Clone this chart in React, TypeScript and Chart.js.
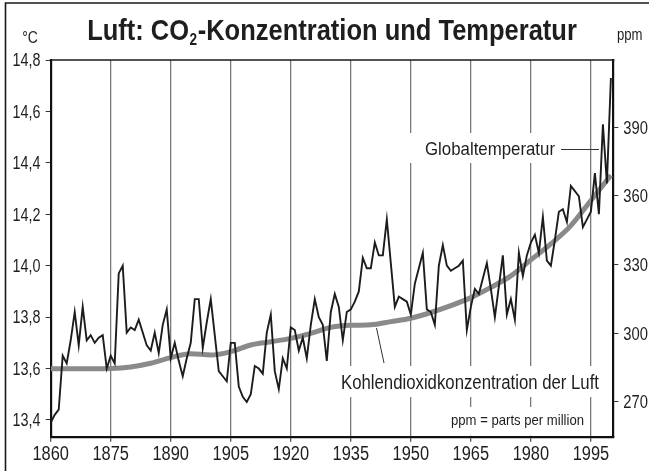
import React, { useEffect, useRef } from "react";
import { Chart, registerables } from "chart.js";
Chart.register(...registerables);

const FONT = "'Liberation Sans', Arial, sans-serif";

const firstYear = 1860;
const temp1860s = [13.39, 13.42, 13.44, 13.65, 13.62, 13.71, 13.82, 13.69, 13.84, 13.71];
const temp1870s = [13.73, 13.70, 13.72, 13.73, 13.60, 13.65, 13.62, 13.97, 14.00, 13.74];
const temp1880s = [13.76, 13.75, 13.79, 13.74, 13.69, 13.67, 13.74, 13.66, 13.77, 13.83];
const temp1890s = [13.64, 13.70, 13.63, 13.57, 13.64, 13.70, 13.87, 13.87, 13.68, 13.78];
const temp1900s = [13.87, 13.73, 13.59, 13.57, 13.55, 13.70, 13.70, 13.53, 13.49, 13.47];
const temp1910s = [13.50, 13.61, 13.60, 13.58, 13.74, 13.81, 13.59, 13.52, 13.64, 13.60];
const temp1920s = [13.76, 13.75, 13.67, 13.72, 13.64, 13.77, 13.87, 13.80, 13.77, 13.63];
const temp1930s = [13.82, 13.89, 13.84, 13.71, 13.82, 13.83, 13.86, 13.90, 14.03, 13.99];
const temp1940s = [13.99, 14.09, 14.04, 14.04, 14.18, 14.01, 13.84, 13.88, 13.87, 13.86];
const temp1950s = [13.81, 13.93, 13.99, 14.05, 13.83, 13.82, 13.77, 14.00, 14.08, 14.00];
const temp1960s = [13.98, 13.99, 14.00, 14.02, 13.75, 13.84, 13.91, 13.89, 13.95, 14.01];
const temp1970s = [13.91, 13.80, 13.92, 14.04, 13.81, 13.87, 13.79, 14.05, 13.96, 14.04];
const temp1980s = [14.09, 14.12, 14.05, 14.19, 14.02, 14.00, 14.10, 14.21, 14.22, 14.17];
const temp1990s = [14.31, 14.29, 14.27, 14.15, 14.18, 14.21, 14.36, 14.20, 14.55, 14.32];
const temp2000s = [14.73];

const co2Years = [1860, 1865, 1870, 1875, 1880, 1885, 1890, 1895, 1900, 1905, 1910, 1915, 1920, 1925, 1930, 1935, 1940, 1945, 1950, 1955, 1960, 1965, 1970, 1975, 1980, 1985, 1990, 1995, 2000];
const co2Values = [284.4, 284.4, 284.4, 284.5, 285.2, 286.8, 289.3, 291.0, 290.4, 291.9, 294.8, 296.2, 297.7, 299.9, 302.5, 303.4, 303.6, 305.0, 306.5, 309.0, 312.0, 315.5, 320.0, 325.0, 332.0, 339.0, 347.0, 358.0, 369.0];

const xTicks = [1860, 1875, 1890, 1905, 1920, 1935, 1950, 1965, 1980, 1995];
const tempTicks = [13.4, 13.6, 13.8, 14.0, 14.2, 14.4, 14.6, 14.8];
const ppmTicks = [270, 300, 330, 360, 390];

const titleMain = "Luft: CO";
const titleSub = "2";
const titleRest = "-Konzentration und Temperatur";
const leftUnit = "°C";
const rightUnit = "ppm";
const labelTemp = "Globaltemperatur";
const labelCo2 = "Kohlendioxidkonzentration der Luft";
const labelPpm = "ppm = parts per million";

const tempValues = [
  ...temp1860s, ...temp1870s, ...temp1880s, ...temp1890s, ...temp1900s,
  ...temp1910s, ...temp1920s, ...temp1930s, ...temp1940s, ...temp1950s,
  ...temp1960s, ...temp1970s, ...temp1980s, ...temp1990s, ...temp2000s,
];

const SX = 0.82;
const TITLE_SX = 0.85;
const TEXT = "#1e1e1e";

function fontStr(size: number, bold = false) {
  return `${bold ? "bold " : ""}${size}px ${FONT}`;
}

// draw horizontally condensed text; returns drawn width
function drawText(
  ctx: CanvasRenderingContext2D,
  text: string,
  x: number,
  y: number,
  size: number,
  align: "left" | "center" | "right" = "left",
  bold = false,
  sx = SX,
  fitWidth?: number
) {
  ctx.save();
  ctx.font = fontStr(size, bold);
  ctx.textBaseline = "alphabetic";
  ctx.textAlign = "left";
  const raw = ctx.measureText(text).width;
  const s = fitWidth ? fitWidth / raw : sx;
  const w = raw * s;
  const left = align === "left" ? x : align === "center" ? x - w / 2 : x - w;
  ctx.translate(left, y);
  ctx.scale(s, 1);
  ctx.fillStyle = TEXT;
  ctx.fillText(text, 0, 0);
  ctx.restore();
  return w;
}

const decorPlugin = {
  id: "decor",
  beforeDraw(chart: any) {
    const ctx = chart.ctx as CanvasRenderingContext2D;
    ctx.save();
    ctx.fillStyle = "#ffffff";
    ctx.fillRect(0, 0, chart.width, chart.height);
    ctx.strokeStyle = "#1a1a1a";
    ctx.lineWidth = 1.6;
    ctx.beginPath();
    ctx.moveTo(5.5, chart.height);
    ctx.lineTo(5.5, 3);
    ctx.lineTo(chart.width, 3);
    ctx.stroke();
    ctx.restore();

    // title
    ctx.save();
    const bigSize = 30;
    const smallSize = 16;
    ctx.font = fontStr(bigSize, true);
    const w1 = ctx.measureText(titleMain).width * TITLE_SX;
    const w3 = ctx.measureText(titleRest).width * TITLE_SX;
    ctx.font = fontStr(smallSize, true);
    const w2 = ctx.measureText(titleSub).width * TITLE_SX;
    const total = w1 + w2 + w3 + 1;
    let x = 332 - total / 2;
    const base = 40;
    x += drawText(ctx, titleMain, x, base, bigSize, "left", true, TITLE_SX);
    x += drawText(ctx, titleSub, x + 0.5, base + 5, smallSize, "left", true, TITLE_SX) + 1;
    drawText(ctx, titleRest, x, base, bigSize, "left", true, TITLE_SX);
    ctx.restore();

    // units
    drawText(ctx, leftUnit, 30, 43, 17, "center");
    drawText(ctx, rightUnit, 617, 40, 16, "left");
  },
  beforeDatasetsDraw(chart: any) {
    const ctx = chart.ctx as CanvasRenderingContext2D;
    const a = chart.chartArea;
    ctx.save();
    ctx.strokeStyle = "#1a1a1a";
    ctx.lineWidth = 1.6;
    ctx.beginPath();
    ctx.moveTo(a.left - 1, a.top);
    ctx.lineTo(a.right + 1, a.top);
    ctx.stroke();
    // white boxes behind annotation texts
    ctx.fillStyle = "#ffffff";
    ctx.fillRect(405, 133, 155, 30);
    ctx.fillRect(335, 366, 270, 31);
    ctx.fillRect(446, 407, 141, a.bottom - 408);
    // leader lines
    ctx.strokeStyle = "#333";
    ctx.lineWidth = 1;
    ctx.beginPath();
    ctx.moveTo(561, 149.5);
    ctx.lineTo(599, 149.5);
    ctx.moveTo(376.5, 328);
    ctx.lineTo(384, 363);
    ctx.stroke();
    ctx.restore();
    // texts
    drawText(ctx, labelTemp, 425, 155, 19, "left", false, SX, 130);
    drawText(ctx, labelCo2, 341, 389, 19.5, "left", false, SX, 258);
    drawText(ctx, labelPpm, 451, 424.5, 14.5, "left", false, SX, 133);
  },
  afterDraw(chart: any) {
    const ctx = chart.ctx as CanvasRenderingContext2D;
    const xs = chart.scales.x;
    const ys = chart.scales.y;
    const y2 = chart.scales.y2;
    xTicks.forEach((v) => {
      drawText(ctx, String(v), xs.getPixelForValue(v), 460, 20, "center");
    });
    tempTicks.forEach((v) => {
      drawText(ctx, v.toFixed(1).replace(".", ","), 40.5, ys.getPixelForValue(v) + 6.3, 17.5, "right");
    });
    ppmTicks.forEach((v) => {
      drawText(ctx, String(v), 623.3, y2.getPixelForValue(v) + 6.5, 18, "left");
    });
  },
};

export default function App() {
  const ref = useRef<HTMLCanvasElement | null>(null);
  useEffect(() => {
    document.body.style.margin = "0";
    const canvas = ref.current;
    if (!canvas) return;
    const tempData = tempValues.map((v, i) => ({ x: firstYear + i, y: v }));
    const co2Data = co2Years.map((yr, i) => ({ x: yr, y: co2Values[i] }));
    const chart = new Chart(canvas, {
      type: "line",
      data: {
        datasets: [
          {
            label: "Globaltemperatur",
            data: tempData,
            yAxisID: "y",
            borderColor: "#1c1c1c",
            borderWidth: 1.9,
            pointRadius: 0,
            tension: 0,
            order: 0,
          },
          {
            label: "CO2",
            data: co2Data,
            yAxisID: "y2",
            borderColor: "#8a8a8a",
            borderWidth: 5,
            pointRadius: 0,
            cubicInterpolationMode: "monotone",
            borderCapStyle: "butt",
            order: 1,
          },
        ],
      },
      options: {
        animation: false,
        responsive: false,
        maintainAspectRatio: false,
        devicePixelRatio: 1,
        layout: { padding: { top: 60, left: 0, right: 0, bottom: 0 } },
        plugins: {
          legend: { display: false },
          tooltip: { enabled: false },
          title: { display: false },
        },
        scales: {
          x: {
            type: "linear",
            min: 1860,
            max: 2000.6,
            afterFit: (s: any) => { s.height = 34.3; },
            afterBuildTicks: (s: any) => { s.ticks = xTicks.map((v) => ({ value: v })); },
            ticks: { display: false },
            grid: {
              color: (c: any) => (c.tick && c.tick.value === 1860 ? "rgba(0,0,0,0)" : "#7a7a7a"),
              tickColor: "#555",
              lineWidth: 1.3,
              tickLength: 5,
              drawTicks: true,
            },
            border: { display: true, color: "#111", width: 2.2 },
          },
          y: {
            position: "left",
            min: 13.335,
            max: 14.8,
            afterFit: (s: any) => { s.width = 50.7; },
            afterBuildTicks: (s: any) => { s.ticks = tempTicks.map((v) => ({ value: v })); },
            ticks: { display: false },
            grid: { drawOnChartArea: false, color: "#333", tickLength: 5, lineWidth: 1 },
            border: { display: true, color: "#111", width: 2.2 },
          },
          y2: {
            position: "right",
            min: 254.7,
            max: 419.4,
            afterFit: (s: any) => { s.width = 35.7; },
            afterBuildTicks: (s: any) => { s.ticks = ppmTicks.map((v) => ({ value: v })); },
            ticks: { display: false },
            grid: { drawOnChartArea: false, color: "#333", tickLength: 5, lineWidth: 1 },
            border: { display: true, color: "#111", width: 2.2 },
          },
        },
      },
      plugins: [decorPlugin],
    } as any);
    return () => chart.destroy();
  }, []);
  return (
    <canvas
      ref={ref}
      width={649}
      height={471}
      style={{ display: "block", width: 649, height: 471 }}
    />
  );
}
